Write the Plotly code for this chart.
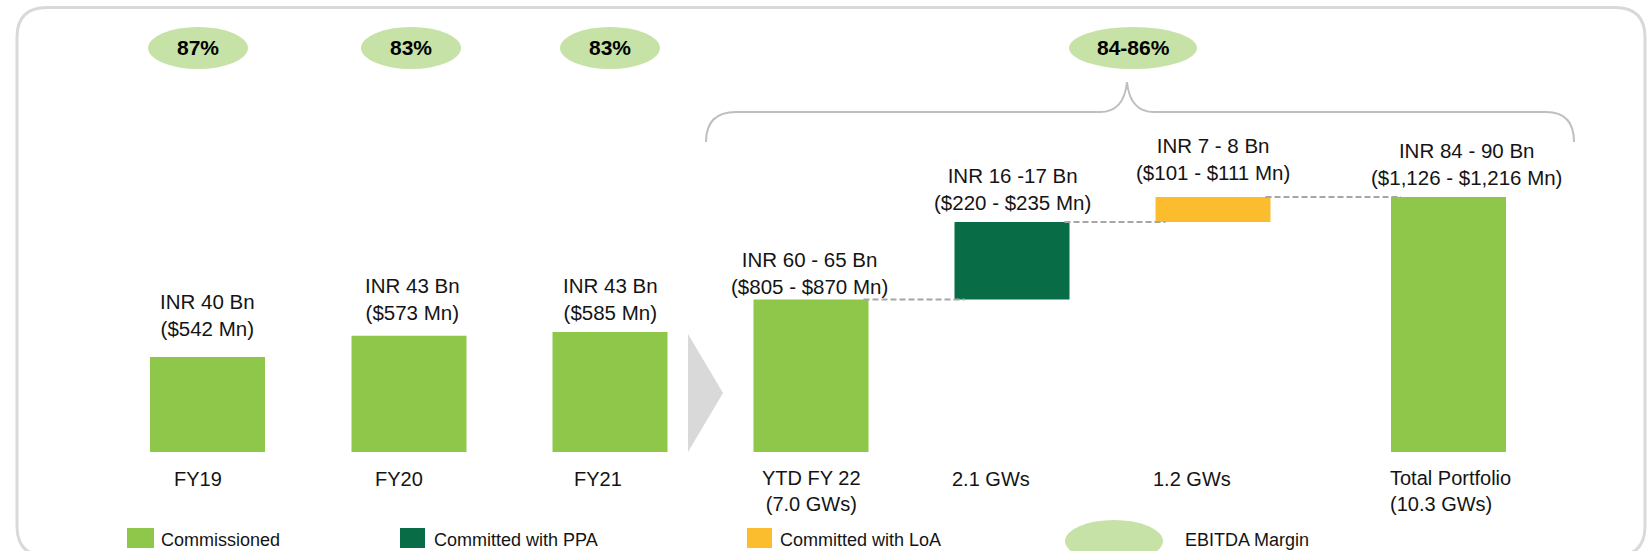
import plotly.graph_objects as go

# ---------------- data ----------------
categories = ["FY19", "FY20", "FY21", "YTD FY 22<br>(7.0 GWs)", "2.1 GWs", "1.2 GWs",
              "Total Portfolio<br>(10.3 GWs)"]
bar_series = ["Commissioned", "Commissioned", "Commissioned", "Commissioned",
              "Committed with PPA", "Committed with LoA", "Commissioned"]
bar_kind = ["absolute", "absolute", "absolute", "absolute", "relative", "relative", "total"]
# bar heights as drawn in the (schematic, not-to-scale) chart, in chart units
bar_height = [38, 46.5, 48, 61, 31, 10, 102]
inr_labels = ["INR 40 Bn", "INR 43 Bn", "INR 43 Bn", "INR 60 - 65 Bn", "INR 16 -17 Bn",
              "INR 7 - 8 Bn", "INR 84 - 90 Bn"]
usd_labels = ["($542 Mn)", "($573 Mn)", "($585 Mn)", "($805 - $870 Mn)", "($220 - $235 Mn)",
              "($101 - $111 Mn)", "($1,126 - $1,216 Mn)"]
margin_labels = ["87%", "83%", "83%", "84-86%"]
legend_items = ["Commissioned", "Committed with PPA", "Committed with LoA", "EBITDA Margin"]

# ---------------- layout / style ----------------
W, H = 1647, 551
BASE_PX = 452          # pixel row of the bar baseline
PX_PER_UNIT = 2.5
FONT = "Liberation Sans, Arial, sans-serif"
TXT = "#141414"
colors = {"Commissioned": "#8FC74A", "Committed with PPA": "#086D46",
          "Committed with LoA": "#FBBD2E", "EBITDA Margin": "#C6E2A7"}

slot_x = [207.5, 409, 610, 811, 1012, 1213, 1448.5]
BAR_W = 115
label_gap = [42, 37, 33, 27, 33, 38, 33]          # px from bar top to label centre
label_dx = [0, 3, 0, -2, 0, 0, 18]
cat_dx = [-10, -10, -12, 0, -21, -21, None]


def yd(py):
    return (BASE_PX - py) / PX_PER_UNIT


def P(x, y):
    return f"{x / W:.5f},{1 - y / H:.5f}"


# cumulative bases for the waterfall-type bars
bar_base = []
level = 0
for kind, h in zip(bar_kind, bar_height):
    if kind == "relative":
        bar_base.append(level)
        level += h
    else:
        bar_base.append(0)
        level = h
bar_top = [b + h for b, h in zip(bar_base, bar_height)]

fig = go.Figure()
for s in ["Commissioned", "Committed with PPA", "Committed with LoA"]:
    idx = [i for i, v in enumerate(bar_series) if v == s]
    fig.add_trace(go.Bar(
        x=[slot_x[i] for i in idx], y=[bar_height[i] for i in idx],
        base=[bar_base[i] for i in idx], width=BAR_W, name=s,
        marker=dict(color=colors[s], line=dict(width=0)),
        showlegend=False, hoverinfo="skip"))

shapes = []
annotations = []

# frame
r = 30
x0, x1, y0, y1 = 17, 1645, 7.5, 556
shapes.append(dict(
    type="path", xref="paper", yref="paper",
    path=(f"M {P(x0, y1 - r)} L {P(x0, y0 + r)} Q {P(x0, y0)} {P(x0 + r, y0)} "
          f"L {P(x1 - r, y0)} Q {P(x1, y0)} {P(x1, y0 + r)} L {P(x1, y1 - r)} "
          f"Q {P(x1, y1)} {P(x1 - r, y1)} L {P(x0 + r, y1)} Q {P(x0, y1)} {P(x0, y1 - r)} Z"),
    line=dict(color="#D9D9D9", width=3), layer="below"))

# brace over the projection part
shapes.append(dict(
    type="path", xref="paper", yref="paper",
    path=(f"M {P(706, 142)} Q {P(706, 112)} {P(736, 112)} L {P(1100, 112)} "
          f"Q {P(1124, 112)} {P(1127, 82)} Q {P(1130, 112)} {P(1154, 112)} "
          f"L {P(1546, 112)} Q {P(1574, 112)} {P(1574, 142)}"),
    line=dict(color="#BFBFBF", width=2)))

# chevron
shapes.append(dict(
    type="path", xref="paper", yref="paper",
    path=f"M {P(688, 334)} L {P(723, 393)} L {P(688, 452)} Z",
    fillcolor="#D9D9D9", line=dict(width=0)))

# dashed connectors
for i in range(4, 7):
    shapes.append(dict(
        type="line", xref="x", yref="y",
        x0=slot_x[i - 1] + BAR_W / 2 - 5, x1=slot_x[i] - BAR_W / 2 + 10,
        y0=bar_top[i - 1], y1=bar_top[i - 1],
        line=dict(color="#A6A6A6", width=2, dash="6px,3px")))

# value labels above bars
for i in range(len(categories)):
    annotations.append(dict(
        x=slot_x[i] + label_dx[i], y=bar_top[i], xref="x", yref="y",
        yanchor="middle", xanchor="center", yshift=label_gap[i], showarrow=False,
        text=f"{inr_labels[i]}<br>{usd_labels[i]}", align="center",
        font=dict(family=FONT, size=20.5, color=TXT)))

# category labels
for i, c in enumerate(categories):
    two = "<br>" in c
    cy = 478.5 + (12.5 if two else 0)
    if cat_dx[i] is None:
        annotations.append(dict(
            x=slot_x[i] - BAR_W / 2 - 3, y=yd(cy), xref="x", yref="y",
            xanchor="left", yanchor="middle", align="left", showarrow=False,
            text=c, font=dict(family=FONT, size=20, color=TXT)))
    else:
        annotations.append(dict(
            x=slot_x[i] + cat_dx[i], y=yd(cy), xref="x", yref="y",
            xanchor="center", yanchor="middle", align="center", showarrow=False,
            text=c, font=dict(family=FONT, size=20, color=TXT)))

# EBITDA margin ellipses
ell = [(198, 100), (411, 100), (610, 100), (1133, 128)]
for (cx, w), m in zip(ell, margin_labels):
    shapes.append(dict(type="circle", xref="paper", yref="paper",
                       x0=(cx - w / 2) / W, x1=(cx + w / 2) / W,
                       y0=1 - 69 / H, y1=1 - 27 / H,
                       fillcolor=colors["EBITDA Margin"], line=dict(width=0)))
    annotations.append(dict(x=cx / W, y=1 - 47.5 / H, xref="paper", yref="paper",
                            xanchor="center", yanchor="middle",
                            showarrow=False, text=f"<b>{m}</b>",
                            font=dict(family=FONT, size=21, color="#000000")))

# manual legend
sq = [(127, 154), (400, 425), (747, 772)]
txt_x = [159, 432, 778]
for (a, b), tx, name in zip(sq, txt_x, legend_items[:3]):
    shapes.append(dict(type="rect", xref="paper", yref="paper",
                       x0=a / W, x1=b / W, y0=1 - 548 / H, y1=1 - 528 / H,
                       fillcolor=colors[name], line=dict(width=0)))
    annotations.append(dict(x=tx / W, y=1 - 540 / H, xref="paper", yref="paper",
                            xanchor="left", yanchor="middle", showarrow=False,
                            text=name, font=dict(family=FONT, size=18, color=TXT)))
shapes.append(dict(type="circle", xref="paper", yref="paper",
                   x0=1065 / W, x1=1163 / W, y0=1 - 562 / H, y1=1 - 520 / H,
                   fillcolor=colors["EBITDA Margin"], line=dict(width=0)))
annotations.append(dict(x=1183 / W, y=1 - 540 / H, xref="paper", yref="paper",
                        xanchor="left", yanchor="middle", showarrow=False,
                        text=legend_items[3], font=dict(family=FONT, size=18, color=TXT)))

fig.update_layout(
    width=W, height=H, margin=dict(l=0, r=0, t=0, b=0),
    paper_bgcolor="white", plot_bgcolor="rgba(0,0,0,0)",
    xaxis=dict(range=[0, W], visible=False, fixedrange=True),
    yaxis=dict(range=[yd(H), yd(0)], visible=False, fixedrange=True),
    shapes=shapes, annotations=annotations, hovermode=False, showlegend=False,
    barmode="overlay",
)

fig.write_html("out.html", config={"displayModeBar": False},
               post_script="document.body.style.margin='0';document.body.style.overflow='hidden';")
